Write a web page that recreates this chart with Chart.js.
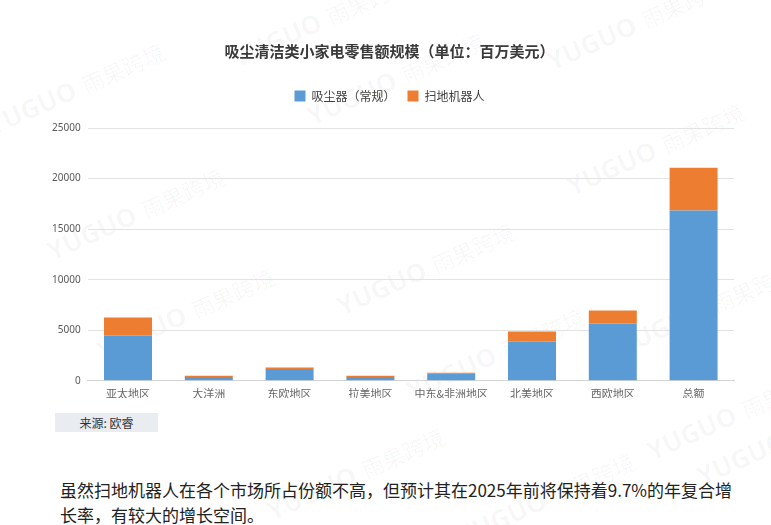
<!DOCTYPE html>
<html>
<head>
<meta charset="utf-8">
<script src="https://cdn.jsdelivr.net/npm/chart.js@4.4.0/dist/chart.umd.min.js"></script>
<style>
  body { margin:0; background:#fff; font-family:"Noto Sans CJK SC","Noto Sans",sans-serif; }
  #page { position:relative; width:771px; height:525px; overflow:hidden; background:#fff; }
  #cadre { position:absolute; left:0; top:0; width:771px; height:402px; z-index:2; }
  .source { position:absolute; left:55px; top:413px; width:103px; height:19px; background:#e9edf1;
            font-size:12px; color:#333; line-height:19px; text-align:center; z-index:2; }
  .texte { position:absolute; left:60px; top:477px; font-size:17px; line-height:25px; color:#222; white-space:nowrap; z-index:2; }
  .filigrane { position:absolute; font-family:"Noto Sans","Noto Sans CJK SC",sans-serif; font-weight:bold; font-size:26px;
               color:rgba(0,0,0,0.035); transform:rotate(-24deg); white-space:nowrap; pointer-events:none; z-index:1; }
  .filigrane span { font-weight:normal; font-size:22px; margin-left:8px; }
</style>
</head>
<body>
<div id="page">
  <div id="cadre"><canvas id="grapheventes"></canvas></div>
  <div class="source">来源: 欧睿</div>
  <div class="texte">虽然扫地机器人在各个市场所占份额不高，但预计其在2025年前将保持着9.7%的年复合增<br>长率，有较大的增长空间。</div>
</div>

<script>
// donnees (millions USD)
var regions = ['亚太地区', '大洋洲', '东欧地区', '拉美地区', '中东&非洲地区', '北美地区', '西欧地区', '总额'];
var aspirateurs = [4470, 370, 1160, 380, 700, 3880, 5670, 16830];
var robots = [1790, 130, 160, 110, 95, 990, 1290, 4240];
var ticksY = [0, 5000, 10000, 15000, 20000, 25000];

// filigranes
var positions = [[225,2],[540,5],[-20,70],[300,60],[40,195],[560,130],[330,250],[90,295],[610,290],[400,335],[640,395],[260,455],[450,480],[690,420]];
positions.forEach(function(p){
    var d = document.createElement('div');
    d.className = 'filigrane';
    d.style.left = p[0] + 'px';
    d.style.top = p[1] + 'px';
    d.innerHTML = 'YUGUO<span>雨果跨境</span>';
    document.getElementById('page').appendChild(d);
});

// marge sous la legende
var margeLegende = {
    id: 'margeLegende',
    beforeInit: function(chart){
        var fit = chart.legend.fit;
        chart.legend.fit = function(){
            fit.bind(chart.legend)();
            this.height += 16;
        };
    }
};

var chart;

function Graph() {
    const ctx = document.getElementById('grapheventes');

    var data = {
        type: 'bar',
        data: {
            labels: regions,
            datasets: [
                { label: '吸尘器（常规）', data: aspirateurs, backgroundColor: '#5b9bd5' },
                { label: '扫地机器人', data: robots, backgroundColor: '#ed7d31' }
            ]
        },
        options: {
            responsive: true,
            maintainAspectRatio: false,
            animation: false,
            layout: { padding: { top: 42, left: 45, right: 37, bottom: 4 } },
            datasets: { bar: { categoryPercentage: 1, barPercentage: 0.594 } },
            plugins: {
                title: {
                    display: true,
                    text: '吸尘清洁类小家电零售额规模（单位：百万美元）',
                    color: '#3a3a3a',
                    font: { family: 'Noto Sans CJK SC', size: 15, weight: 'bold' },
                    padding: { top: 0, bottom: 18 }
                },
                legend: {
                    position: 'top',
                    labels: {
                        boxWidth: 11, boxHeight: 11, padding: 12,
                        color: '#404040',
                        font: { family: 'Noto Sans CJK SC', size: 12 }
                    }
                },
                tooltip: { enabled: false }
            },
            scales: {
                x: {
                    stacked: true,
                    grid: { display: false },
                    border: { color: '#d4d4d4' },
                    ticks: { color: '#666', padding: -2, font: { family: 'Noto Sans CJK SC', size: 11 } }
                },
                y: {
                    stacked: true,
                    min: 0, max: 25000,
                    afterBuildTicks: function(axis){ axis.ticks = ticksY.map(function(v){ return { value: v }; }); },
                    grid: { color: '#e3e3e3', drawTicks: false },
                    border: { display: false },
                    ticks: {
                        color: '#595959', padding: 7, font: { family: 'Noto Sans', size: 10 },
                        callback: function(v){ return String(v); }
                    }
                }
            }
        },
        plugins: [margeLegende]
    };

    if (chart) { chart.destroy(); }
    chart = new Chart(ctx, data);
}

Graph();
</script>
</body>
</html>
